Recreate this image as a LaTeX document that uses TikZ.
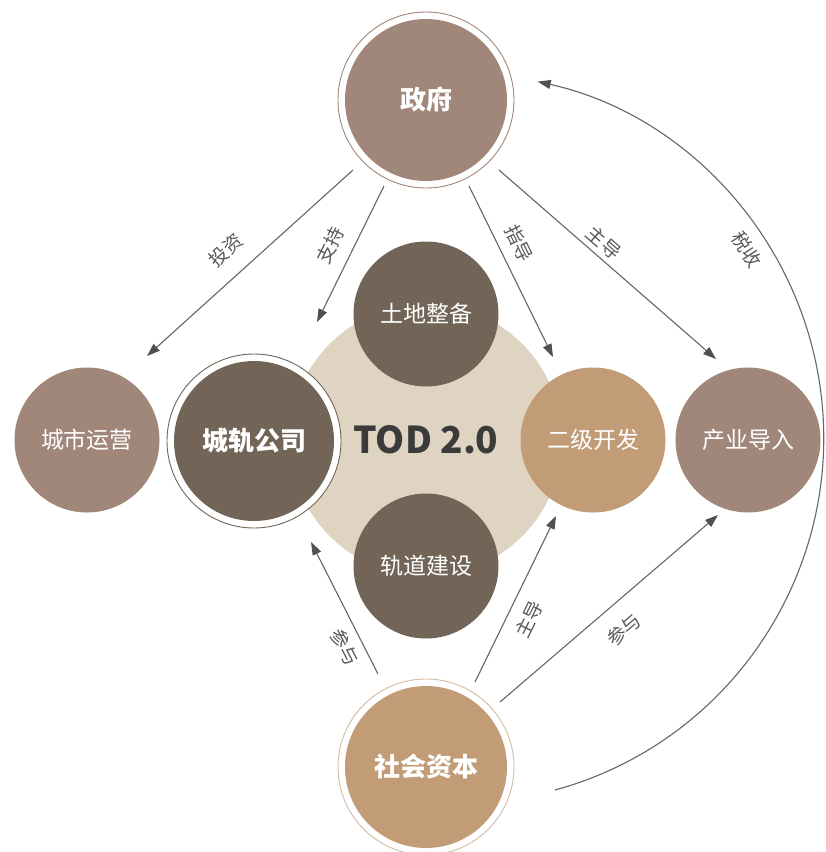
\documentclass[tikz,border=0pt]{standalone}
\usepackage{fontspec}
\setmainfont{Noto Sans CJK SC}
\usetikzlibrary{arrows.meta}
\definecolor{rose}{HTML}{A0877A}
\definecolor{darkb}{HTML}{726557}
\definecolor{tanb}{HTML}{C19C77}
\definecolor{beige}{HTML}{DFD4C2}
\definecolor{arr}{HTML}{666666}
\definecolor{arrtip}{HTML}{4F5052}
\definecolor{lbl}{HTML}{5A5A5A}
\definecolor{todc}{HTML}{3B3B3B}
\begin{document}
\begin{tikzpicture}[x=1pt,y=-1pt,
  ball/.style={circle,inner sep=0pt,minimum size=145pt,text=white,
    font=\fontsize{23}{23}\selectfont},
  bigball/.style={circle,inner sep=0pt,minimum size=#1,text=white,
    font=\fontsize{26}{26}\selectfont\bfseries},
  ringc/.style={circle,inner sep=0pt,minimum size=#1,fill=white,line width=0.9pt},
  conn/.style={draw=arr,line width=1.1pt,
    -{Triangle[length=13pt,width=9pt,color=arrtip]}},
  lab/.style={text=lbl,inner sep=0pt,font=\fontsize{19}{19}\selectfont}]
\useasboundingbox (0,0) rectangle (826,852);
\fill[white] (0,0) rectangle (826,852);

% central beige disc
\node[circle,fill=beige,minimum size=272pt,inner sep=0pt] (core) at (426,440) {};
\node[text=todc,font=\fontsize{37}{37}\selectfont\bfseries] (tod) at (426,440) {TOD 2.0};

% inner circles
\node[ball,fill=darkb] (td) at (426,314) {土地整备};
\node[ball,fill=darkb] (gd) at (426,566) {轨道建设};
\node[ball,fill=tanb] (ej) at (593,440) {二级开发};
\node[ball,fill=rose] (cs) at (87,440) {城市运营};
\node[ball,fill=rose] (cy) at (748,440) {产业导入};

% ringed circles
\node[ringc=174pt,draw=darkb] (cgr) at (254,441) {};
\node[bigball=160pt,fill=darkb] (cg) at (254,441) {城轨公司};
\node[ringc=176pt,draw=rose] (zfr) at (426,100) {};
\node[bigball=162pt,fill=rose] (zf) at (426,100) {政府};
\node[ringc=176pt,draw=tanb!70] (shr) at (426,767) {};
\node[bigball=162pt,fill=tanb] (sh) at (426,767) {社会资本};

% connector end points
\coordinate (a1s) at (353,170); \coordinate (a1e) at (147,356);
\coordinate (a2s) at (384,186); \coordinate (a2e) at (317,322);
\coordinate (a3s) at (469,186); \coordinate (a3e) at (553,357);
\coordinate (a4s) at (499,170); \coordinate (a4e) at (716,359);
\coordinate (b1s) at (378,674); \coordinate (b1e) at (311,542);
\coordinate (b2s) at (475,682); \coordinate (b2e) at (556,516);
\coordinate (b3s) at (500,702); \coordinate (b3e) at (718,515);
\coordinate (tss) at (555,790);

\draw[conn] (a1s) -- (a1e);
\draw[conn] (a2s) -- (a2e);
\draw[conn] (a3s) -- (a3e);
\draw[conn] (a4s) -- (a4e);
\draw[conn] (b1s) -- (b1e);
\draw[conn] (b2s) -- (b2e);
\draw[conn] (b3s) -- (b3e);
\draw[conn] (tss) arc[start angle=74.7,end angle=-77.5,radius=365];

% labels
\node[lab,rotate=42] (l1) at (226,250) {投资};
\node[lab,rotate=64] (l2) at (330,245) {支持};
\node[lab,rotate=-64] (l3) at (519,243) {指导};
\node[lab,rotate=-41] (l4) at (604,243) {主导};
\node[lab,rotate=-57] (l5) at (747,250) {税收};
\node[lab,rotate=-63] (l6) at (345,647) {参与};
\node[lab,rotate=64] (l7) at (529,619) {主导};
\node[lab,rotate=41] (l8) at (624,630) {参与};
\end{tikzpicture}
\end{document}
